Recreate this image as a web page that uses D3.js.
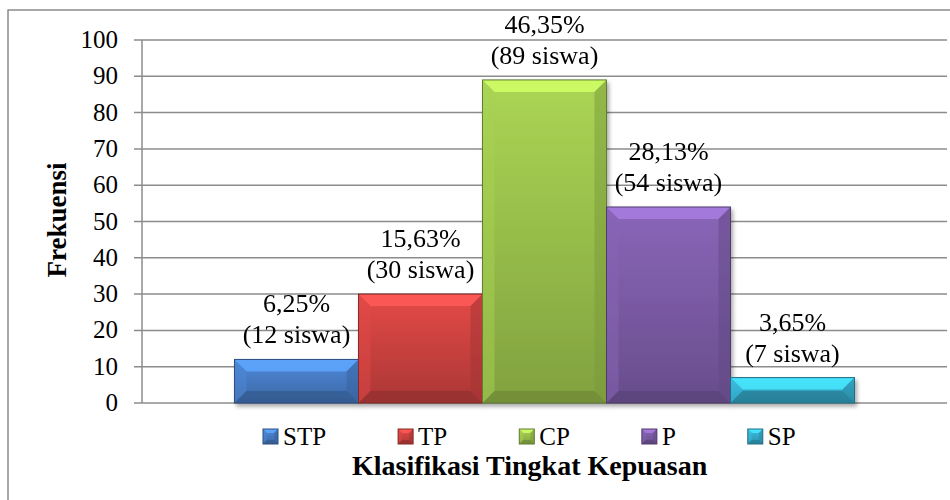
<!DOCTYPE html>
<html>
<head>
<meta charset="utf-8">
<script src="https://cdn.jsdelivr.net/npm/d3@7"></script>
<style>
  body { margin: 0; background: #fff; }
  text { font-family: "Liberation Serif", "Times New Roman", serif; fill: #000; }
</style>
</head>
<body>
<svg id="chart" width="950" height="500"></svg>
<script>
// data
var kategori = ["STP", "TP", "CP", "P", "SP"];
var frekuensi = [12, 30, 89, 54, 7];
var persen = ["6,25%", "15,63%", "46,35%", "28,13%", "3,65%"];
var warna = ["#4579c0", "#c9413f", "#97bd4a", "#7a5aa3", "#34a9c8"];
var yTicks = [0, 10, 20, 30, 40, 50, 60, 70, 80, 90, 100];

var svg = d3.select("#chart");
var gris = "#8c8c8c";

// geometry
var gauche = 142, droite = 947, haut = 40, bas = 403;

// outer border (cropped on right/bottom)
svg.append("rect")
  .attr("x", 8).attr("y", 10)
  .attr("width", 960).attr("height", 520)
  .attr("fill", "none").attr("stroke", gris).attr("stroke-width", 1.5);

var y = d3.scaleLinear().domain([0, 100]).range([bas, haut]);
var x = d3.scaleBand().domain(kategori).range([gauche, droite])
  .paddingInner(0).paddingOuter(0.746);

var defs = svg.append("defs");
var f = defs.append("filter").attr("id", "ombre")
  .attr("x", "-10%").attr("y", "-10%").attr("width", "130%").attr("height", "130%");
f.append("feGaussianBlur").attr("in", "SourceAlpha").attr("stdDeviation", 2);
f.append("feOffset").attr("dx", 2).attr("dy", 3).attr("result", "b");
f.append("feComponentTransfer").append("feFuncA").attr("type", "linear").attr("slope", 0.35);
var fm = f.append("feMerge");
fm.append("feMergeNode");
fm.append("feMergeNode").attr("in", "SourceGraphic");

warna.forEach(function(c, i) {
  var g = defs.append("linearGradient").attr("id", "grad" + i)
    .attr("x1", 0).attr("y1", 0).attr("x2", 0).attr("y2", 1);
  g.append("stop").attr("offset", "0%").attr("stop-color", d3.color(c).brighter(0.35));
  g.append("stop").attr("offset", "100%").attr("stop-color", d3.color(c).darker(0.45));
});

// gridlines
svg.append("g").selectAll("line").data(yTicks).enter().append("line")
  .attr("x1", gauche - 8).attr("x2", droite)
  .attr("y1", function(d){ return y(d); }).attr("y2", function(d){ return y(d); })
  .attr("stroke", gris).attr("stroke-width", 1.5);

// y axis line
svg.append("line")
  .attr("x1", gauche).attr("x2", gauche).attr("y1", y(100)).attr("y2", y(0))
  .attr("stroke", gris).attr("stroke-width", 1.5);

// tick labels
svg.append("g").selectAll("text").data(yTicks).enter().append("text")
  .attr("x", 118).attr("y", function(d){ return y(d) + 8; })
  .attr("text-anchor", "end").attr("font-size", 25)
  .text(function(d){ return d; });

// bevelled box
function boite(g, x0, y0, w, h, c, idx, b) {
  b = Math.min(b, h / 2, w / 2);
  var col = d3.color(c);
  g.append("rect").attr("x", x0).attr("y", y0).attr("width", w).attr("height", h)
    .attr("fill", "url(#grad" + idx + ")");
  var x1 = x0 + w, y1 = y0 + h;
  function poly(pts, fill, op) {
    g.append("polygon").attr("points", pts.map(function(p){ return p.join(","); }).join(" "))
      .attr("fill", fill).attr("opacity", op);
  }
  poly([[x0, y0], [x1, y0], [x1 - b, y0 + b], [x0 + b, y0 + b]], col.brighter(0.9), 0.85);
  poly([[x0, y0], [x0 + b, y0 + b], [x0 + b, y1 - b], [x0, y1]], col.brighter(0.3), 0.5);
  poly([[x1, y0], [x1, y1], [x1 - b, y1 - b], [x1 - b, y0 + b]], col.darker(0.6), 0.5);
  poly([[x0, y1], [x0 + b, y1 - b], [x1 - b, y1 - b], [x1, y1]], col.darker(0.9), 0.7);
  g.append("rect").attr("x", x0).attr("y", y0).attr("width", w).attr("height", h)
    .attr("fill", "none").attr("stroke", col.darker(1.2)).attr("stroke-width", 1);
}

// bars
var barres = svg.append("g").attr("filter", "url(#ombre)");
kategori.forEach(function(k, i) {
  var g = barres.append("g");
  boite(g, x(k), y(frekuensi[i]), x.bandwidth(), y(0) - y(frekuensi[i]), warna[i], i, 12);
});

// data labels
var lab = svg.append("g");
kategori.forEach(function(k, i) {
  var cx = x(k) + x.bandwidth() / 2;
  var yb = y(frekuensi[i]) - 16;
  lab.append("text").attr("x", cx).attr("y", yb - 31)
    .attr("text-anchor", "middle").attr("font-size", 26).text(persen[i]);
  lab.append("text").attr("x", cx).attr("y", yb)
    .attr("text-anchor", "middle").attr("font-size", 26)
    .text("(" + frekuensi[i] + " siswa)");
});

// y title
svg.append("text")
  .attr("transform", "translate(66,220) rotate(-90)")
  .attr("text-anchor", "middle").attr("font-size", 27).attr("font-weight", "bold")
  .text("Frekuensi");

// legend
var leg = svg.append("g");
var lx = 263;
kategori.forEach(function(k, i) {
  var g = leg.append("g");
  boite(g, lx, 429, 15, 15, warna[i], i, 4);
  var t = g.append("text").attr("x", lx + 20).attr("y", 445)
    .attr("font-size", 25).text(k);
  lx += 20 + t.node().getComputedTextLength() + 72;
});

// x title
svg.append("text")
  .attr("x", 352).attr("y", 475)
  .attr("font-size", 28).attr("font-weight", "bold")
  .text("Klasifikasi Tingkat Kepuasan");
</script>
</body>
</html>
